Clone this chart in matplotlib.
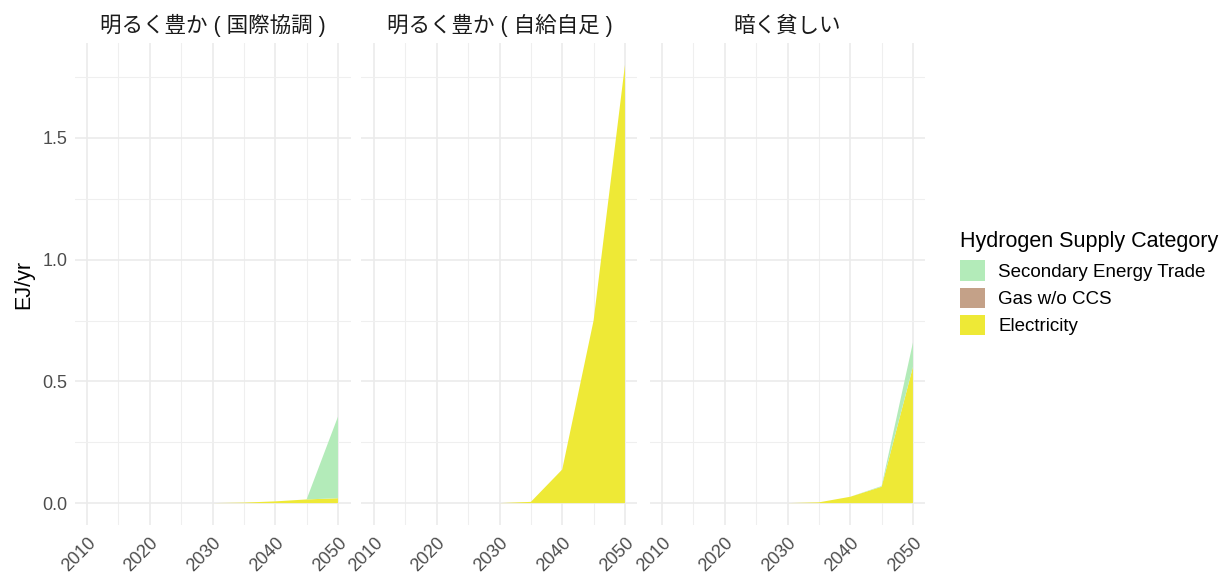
import matplotlib
matplotlib.use("Agg")
import matplotlib.pyplot as plt
import numpy as np
from matplotlib.patches import Patch

plt.rcParams['font.family'] = ['Liberation Sans', 'Noto Sans CJK JP', 'DejaVu Sans']

years = [2010, 2015, 2020, 2025, 2030, 2035, 2040, 2045, 2050]
scenarios = ["明るく豊か ( 国際協調 )", "明るく豊か ( 自給自足 )", "暗く貧しい"]
categories = ["Electricity", "Gas w/o CCS", "Secondary Energy Trade"]
colors = {"Electricity": "#EEE936", "Gas w/o CCS": "#C4A188", "Secondary Energy Trade": "#B3EBB9"}

electricity = [
    [0, 0, 0, 0, 0, 0.002, 0.007, 0.015, 0.020],
    [0, 0, 0, 0, 0, 0.005, 0.138, 0.75, 1.80],
    [0, 0, 0, 0, 0, 0.003, 0.026, 0.067, 0.56],
]
gas = [
    [0, 0, 0, 0, 0, 0, 0, 0, 0],
    [0, 0, 0, 0, 0, 0, 0, 0, 0],
    [0, 0, 0, 0, 0, 0, 0, 0, 0],
]
trade = [
    [0, 0, 0, 0, 0, 0, 0, 0, 0.335],
    [0, 0, 0, 0, 0, 0, 0, 0, 0],
    [0, 0, 0, 0, 0, 0, 0, 0.003, 0.10],
]

W, H = 1226, 575
fig = plt.figure(figsize=(W / 100, H / 100), dpi=100)

panel_left = [74.5, 361.5, 649.5]
panel_w = 276
top_px, bot_px = 43, 525
ylim = (-0.09, 1.89)

for i, sc in enumerate(scenarios):
    ax = fig.add_axes([panel_left[i] / W, 1 - bot_px / H, panel_w / W, (bot_px - top_px) / H])
    ax.set_xlim(2008, 2052)
    ax.set_ylim(*ylim)
    x = np.array(years)
    e = np.array(electricity[i])
    g = np.array(gas[i])
    t = np.array(trade[i])
    ax.stackplot(x, e, g, t,
                 colors=[colors["Electricity"], colors["Gas w/o CCS"], colors["Secondary Energy Trade"]],
                 linewidth=0, zorder=3)
    ax.set_xticks([2010, 2020, 2030, 2040, 2050])
    ax.set_xticks([2015, 2025, 2035, 2045], minor=True)
    ax.set_yticks([0.0, 0.5, 1.0, 1.5])
    ax.set_yticks([0.25, 0.75, 1.25, 1.75], minor=True)
    ax.grid(True, which='major', color='#EBEBEB', linewidth=1.2, zorder=0)
    ax.grid(True, which='minor', color='#EFEFEF', linewidth=0.8, zorder=0)
    for s in ax.spines.values():
        s.set_visible(False)
    ax.tick_params(which='both', length=0)
    ax.tick_params(axis='x', labelsize=13, labelcolor='#4D4D4D', pad=7)
    ax.tick_params(axis='y', labelsize=13, labelcolor='#4D4D4D', pad=5)
    for lab in ax.get_xticklabels():
        lab.set_rotation(45)
        lab.set_ha('right')
        lab.set_va('top')
        lab.set_rotation_mode('anchor')
    ax.set_yticklabels(['0.0', '0.5', '1.0', '1.5'])
    if i > 0:
        ax.set_yticklabels([])
    else:
        ax.set_ylabel("EJ/yr", fontsize=15.5, color='black', labelpad=6)
    ax.set_title(sc, fontsize=15.5, color='#1A1A1A', pad=8)

handles = [Patch(facecolor=colors[c], edgecolor='none') for c in ["Secondary Energy Trade", "Gas w/o CCS", "Electricity"]]
labels = ["Secondary Energy Trade", "Gas w/o CCS", "Electricity"]
leg = fig.legend(handles, labels, title="Hydrogen Supply Category",
                 loc='upper left', bbox_to_anchor=(947 / W, 1 - 218 / H),
                 frameon=False, fontsize=13.5, title_fontsize=15.5,
                 handlelength=1.33, handleheight=1.3, handletextpad=0.7,
                 labelspacing=0.36, borderpad=0.2)
leg._legend_box.align = "left"
leg._legend_box.sep = 6

fig.savefig("out.png", dpi=100, facecolor='white')
